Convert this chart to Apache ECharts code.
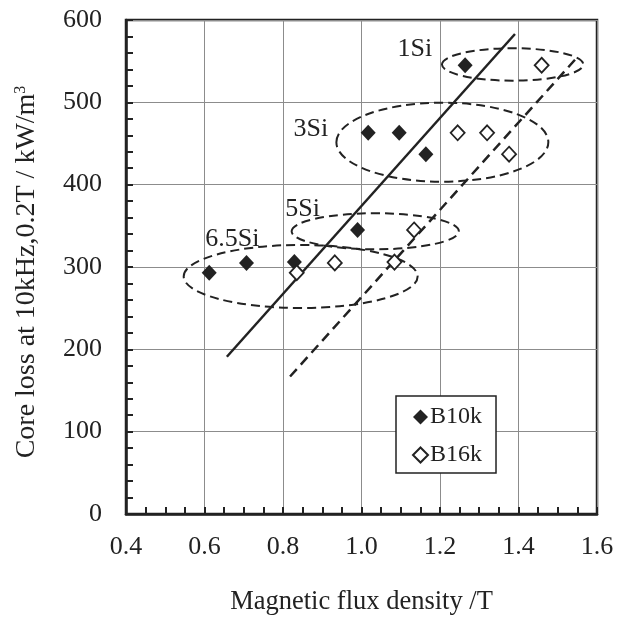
<!DOCTYPE html>
<html>
<head>
<meta charset="utf-8">
<script src="https://cdn.jsdelivr.net/npm/echarts@6/dist/echarts.min.js"></script>
<style>
  html, body { margin: 0; padding: 0; background: #fff; }
  #chart { width: 628px; height: 619px; }
</style>
</head>
<body>
<div id="chart"></div>
<script>
// Samples in order: 1Si, 3Si (x3), 5Si, 6.5Si (x3)
const fluxB10k = [1.264, 1.017, 1.096, 1.164, 0.990, 0.612, 0.707, 0.829];
const fluxB16k = [1.459, 1.245, 1.320, 1.376, 1.134, 0.835, 0.932, 1.084];
// Core loss at 10 kHz, 0.2 T (kW/m3), shared by both flux densities of a sample
const coreLoss = [545, 463, 463, 437, 345, 293, 305, 306];

// Trend lines (end points)
const trendB10kFlux = [0.657, 1.391];
const trendB10kLoss = [191, 583];
const trendB16kFlux = [0.818, 1.552];
const trendB16kLoss = [167, 556];

// Silicon-grade groups: enclosing ellipses and their captions
const gradeNames = ['1Si', '3Si', '5Si', '6.5Si'];
const groupCenterFlux = [1.385, 1.206, 1.035, 0.845];
const groupCenterLoss = [546, 451.6, 343.4, 288.5];
const groupRadiusFlux = [0.180, 0.270, 0.213, 0.298];
const groupRadiusLoss = [19.7, 48, 21.9, 38.3];
const captionFlux = [1.136, 0.871, 0.850, 0.671];
const captionLoss = [564, 468, 370, 334];

// Axis ticks
const xTicks = { min: 0.4, max: 1.6, step: 0.2 };
const yTicks = { min: 0, max: 600, step: 100 };

const FONT = '"Liberation Serif", "Times New Roman", serif';
const INK = '#222';

const chart = echarts.init(document.getElementById('chart'), null, { renderer: 'canvas' });

const option = {
  animation: false,
  backgroundColor: '#fff',
  grid: {
    left: 126, right: 31, top: 20, bottom: 105,
    show: true, borderColor: INK, borderWidth: 2.5, backgroundColor: 'transparent',
    containLabel: false, outerBoundsMode: 'none'
  },
  legend: {
    data: ['B10k', 'B16k'],
    orient: 'vertical',
    left: 396, top: 396,
    backgroundColor: '#fff',
    borderColor: INK, borderWidth: 1.5, borderRadius: 0,
    padding: [9, 14, 6, 16],
    itemWidth: 15, itemHeight: 15, itemGap: 14,
    textStyle: { fontFamily: FONT, fontSize: 24, color: INK, padding: [0, 0, 0, -3] },
    selectedMode: false
  },
  xAxis: {
    type: 'value',
    min: xTicks.min, max: xTicks.max, interval: xTicks.step,
    name: 'Magnetic flux density /T',
    nameLocation: 'middle', nameGap: 75, nameMoveOverlap: false,
    nameTextStyle: { fontFamily: FONT, fontSize: 26.5, color: INK },
    axisLine: { show: true, onZero: false, lineStyle: { color: INK, width: 2.5 } },
    axisTick: { show: true, inside: true, length: 7, lineStyle: { color: INK, width: 2 } },
    minorTick: { show: true, splitNumber: 4, length: 7, lineStyle: { color: INK, width: 2 } },
    splitLine: { show: true, lineStyle: { color: '#8c8c8c', width: 1 } },
    axisLabel: { fontFamily: FONT, fontSize: 26, color: INK, margin: 20,
      formatter: v => v.toFixed(1) }
  },
  yAxis: {
    type: 'value',
    min: yTicks.min, max: yTicks.max, interval: yTicks.step,
    name: 'Core loss at 10kHz,0.2T / kW/m{sup|3}',
    nameLocation: 'middle', nameGap: 85, nameMoveOverlap: false,
    nameTextStyle: { fontFamily: FONT, fontSize: 28, color: INK, padding: [0, 10, 0, 0],
      rich: { sup: { fontFamily: FONT, fontSize: 16, color: INK, verticalAlign: 'top', padding: [0, 0, 11, 0] } } },
    axisLine: { show: true, onZero: false, lineStyle: { color: INK, width: 2.5 } },
    axisTick: { show: true, inside: true, length: 7, lineStyle: { color: INK, width: 2 } },
    minorTick: { show: true, splitNumber: 5, length: 7, lineStyle: { color: INK, width: 2 } },
    splitLine: { show: true, lineStyle: { color: '#8c8c8c', width: 1 } },
    axisLabel: { fontFamily: FONT, fontSize: 26, color: INK, margin: 24 }
  },
  series: [
    {
      type: 'custom',
      name: 'groups',
      silent: true,
      z: 2,
      data: gradeNames.map((n, i) => [groupCenterFlux[i], groupCenterLoss[i], groupRadiusFlux[i], groupRadiusLoss[i]]),
      renderItem: (params, api) => {
        const c = api.coord([api.value(0), api.value(1)]);
        const s = api.size([api.value(2), api.value(3)]);
        return {
          type: 'ellipse',
          shape: { cx: c[0], cy: c[1], rx: s[0], ry: s[1] },
          style: { fill: null, stroke: INK, lineWidth: 2, lineDash: [9, 5] }
        };
      }
    },
    {
      type: 'custom',
      name: 'captions',
      silent: true,
      z: 3,
      data: gradeNames.map((n, i) => [captionFlux[i], captionLoss[i]]),
      renderItem: (params, api) => {
        const p = api.coord([api.value(0), api.value(1)]);
        return {
          type: 'text',
          x: p[0], y: p[1],
          style: { text: gradeNames[params.dataIndex], font: '26px ' + FONT,
            fill: INK, align: 'center', verticalAlign: 'middle' }
        };
      }
    },
    {
      type: 'line',
      name: 'trend B10k',
      silent: true,
      symbol: 'none',
      z: 3,
      data: trendB10kFlux.map((x, i) => [x, trendB10kLoss[i]]),
      lineStyle: { color: INK, width: 2.5 }
    },
    {
      type: 'line',
      name: 'trend B16k',
      silent: true,
      symbol: 'none',
      z: 3,
      data: trendB16kFlux.map((x, i) => [x, trendB16kLoss[i]]),
      lineStyle: { color: INK, width: 2.5, type: [10, 6] }
    },
    {
      type: 'scatter',
      name: 'B10k',
      symbol: 'diamond',
      symbolSize: [15, 16],
      z: 5,
      itemStyle: { color: INK, opacity: 1 },
      data: fluxB10k.map((x, i) => [x, coreLoss[i]])
    },
    {
      type: 'scatter',
      name: 'B16k',
      symbol: 'diamond',
      symbolSize: [14, 15],
      z: 5,
      itemStyle: { color: '#fff', borderColor: INK, borderWidth: 1.8, opacity: 1 },
      data: fluxB16k.map((x, i) => [x, coreLoss[i]])
    }
  ]
};

chart.setOption(option);
</script>
</body>
</html>
